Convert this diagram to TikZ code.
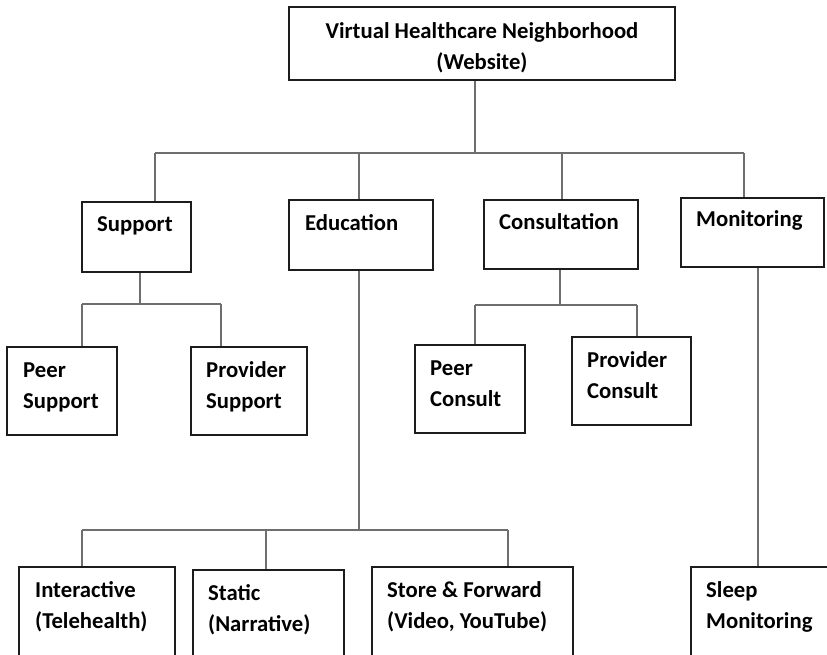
\documentclass[tikz,border=0pt]{standalone}
\usepackage{fontspec}
\setmainfont{Carlito}
\definecolor{boxline}{HTML}{1C1C1C}
\definecolor{linkline}{HTML}{6E6E6E}
\begin{document}
\begin{tikzpicture}[x=1pt,y=-1pt,
  box/.style={draw=boxline,line width=2pt,rectangle,inner sep=0pt,anchor=north west},
  lbl/.style={anchor=base west,inner sep=0pt,align=left,text=black,font=\fontsize{22.7}{31}\selectfont\bfseries},
  link/.style={draw=linkline,line width=1.6pt}]
\clip (0,0) rectangle (827,654);
\fill[white] (0,0) rectangle (827,654);

% boxes
\node[box,minimum width=386pt,minimum height=73pt] (top) at (288,6) {};
\node[box,minimum width=109pt,minimum height=70pt] (support) at (81,201) {};
\node[box,minimum width=144pt,minimum height=70pt] (education) at (288,199) {};
\node[box,minimum width=154pt,minimum height=69pt] (consult) at (483,199) {};
\node[box,minimum width=143pt,minimum height=69pt] (monitor) at (680,197) {};
\node[box,minimum width=110pt,minimum height=88pt] (peerS) at (6,346) {};
\node[box,minimum width=116pt,minimum height=88pt] (provS) at (190,346) {};
\node[box,minimum width=110pt,minimum height=88pt] (peerC) at (414,344) {};
\node[box,minimum width=119pt,minimum height=88pt] (provC) at (571,336) {};
\node[box,minimum width=156pt,minimum height=110pt] (inter) at (18,566) {};
\node[box,minimum width=151pt,minimum height=110pt] (static) at (192,569) {};
\node[box,minimum width=201pt,minimum height=110pt] (store) at (371,566) {};
\node[box,minimum width=160pt,minimum height=110pt] (sleep) at (690,566) {};

% labels (multi-line labels sit on the baseline of their last line)
\node[lbl,anchor=base,align=center] (tTop) at (482,69) {Virtual Healthcare Neighborhood\\(Website)};
\node[lbl] (tSupport) at (97,231) {Support};
\node[lbl] (tEducation) at (305,230) {Education};
\node[lbl] (tConsult) at (499,229) {Consultation};
\node[lbl] (tMonitor) at (696,226) {Monitoring};
\node[lbl] (tPeerS) at (23,408) {Peer\\Support};
\node[lbl] (tProvS) at (206,408) {Provider\\Support};
\node[lbl] (tPeerC) at (430,406) {Peer\\Consult};
\node[lbl] (tProvC) at (587,398) {Provider\\Consult};
\node[lbl] (tInter) at (35,628) {Interactive\\(Telehealth)};
\node[lbl] (tStatic) at (208,631) {Static\\(Narrative)};
\node[lbl] (tStore) at (387,628) {Store \& Forward\\(Video, YouTube)};
\node[lbl] (tSleep) at (706,628) {Sleep\\Monitoring};

% main bus
\coordinate (busT) at (475,153);
\coordinate (b1) at (155,153);
\coordinate (b2) at (359,153);
\coordinate (b3) at (562,153);
\coordinate (b4) at (744,153);
\draw[link] (top.south -| busT) -- (busT);
\draw[link] (b1) -- (b4);
\draw[link] (b1) -- (support.north -| b1);
\draw[link] (b2) -- (education.north -| b2);
\draw[link] (b3) -- (consult.north -| b3);
\draw[link] (b4) -- (monitor.north -| b4);

% support branch
\coordinate (sJ) at (140,304);
\coordinate (sL) at (82,304);
\coordinate (sR) at (221,304);
\draw[link] (support.south -| sJ) -- (sJ);
\draw[link] (sL) -- (sR);
\draw[link] (sL) -- (peerS.north -| sL);
\draw[link] (sR) -- (provS.north -| sR);

% education branch
\coordinate (eJ) at (359,530);
\coordinate (eL) at (82,530);
\coordinate (eM) at (266,530);
\coordinate (eR) at (508,530);
\draw[link] (education.south -| eJ) -- (eJ);
\draw[link] (eL) -- (eR);
\draw[link] (eL) -- (inter.north -| eL);
\draw[link] (eM) -- (static.north -| eM);
\draw[link] (eR) -- (store.north -| eR);

% consultation branch
\coordinate (cJ) at (560,305);
\coordinate (cL) at (475,305);
\coordinate (cR) at (637,305);
\draw[link] (consult.south -| cJ) -- (cJ);
\draw[link] (cL) -- (cR);
\draw[link] (cL) -- (peerC.north -| cL);
\draw[link] (cR) -- (provC.north -| cR);

% monitoring branch
\coordinate (mJ) at (758,300);
\draw[link] (monitor.south -| mJ) -- (sleep.north -| mJ);
\end{tikzpicture}
\end{document}
